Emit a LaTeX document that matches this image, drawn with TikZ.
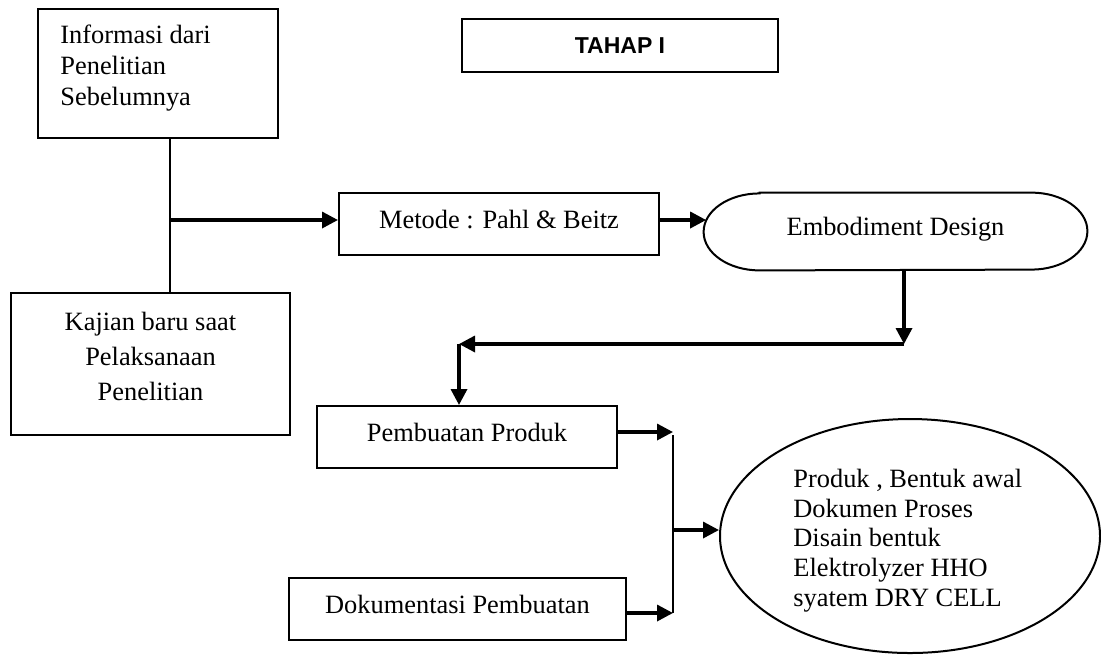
\documentclass[tikz,border=0pt]{standalone}
\usepackage{fontspec}
\setmainfont{Liberation Serif}
\newfontfamily\tahapfont{Liberation Sans}
\usetikzlibrary{arrows.meta,shapes.geometric}
\begin{document}
\begin{tikzpicture}[x=0.5pt,y=-0.5pt,
  box/.style={draw, line width=1pt, rectangle, inner sep=0pt},
  lbl/.style={inner sep=0pt},
  arr/.style={line width=1.7pt, -{Triangle[length=8pt,width=8pt]}},
  link/.style={line width=1pt},
  txt/.style={font=\fontsize{13.2}{15.5}\selectfont, text height=7.5pt, text depth=3.5pt}
]
\useasboundingbox (0,0) rectangle (1101,655);

% title
\node[box, minimum width=158pt, minimum height=26.5pt,
      font=\tahapfont\bfseries\fontsize{11.5}{13}\selectfont] (tahap) at (620,45.5) {TAHAP I};

% left boxes
\node[box, minimum width=120pt, minimum height=64.5pt] (info) at (158,73.5) {};
\node[lbl, anchor=base west, font=\fontsize{13.2}{15.5}\selectfont] (infot) at (60,43)
  {\begin{tabular}[t]{@{}l@{}}Informasi dari\\Penelitian\\Sebelumnya\end{tabular}};

\node[box, minimum width=139.5pt, minimum height=71pt] (kajian) at (150.5,364) {};
\node[lbl, anchor=base, font=\fontsize{13.2}{17.5}\selectfont] (kajiant) at (150.5,330)
  {\begin{tabular}[t]{@{}c@{}}Kajian baru saat\\Pelaksanaan\\Penelitian\end{tabular}};

% process boxes
\node[box, txt, minimum width=160pt, minimum height=31pt] (metode) at (499,224) {Metode : Pahl \& Beitz};
\node[txt, inner sep=0pt, minimum width=191.5pt, minimum height=38.5pt] (embod) at (895.5,231.5) {Embodiment Design};
\draw[line width=1pt]
  ([xshift=28pt]embod.north west) -- ([xshift=-28pt]embod.north east)
  arc[start angle=90, end angle=-90, x radius=28pt, y radius=19.25pt]
  -- ([xshift=28pt]embod.south west)
  arc[start angle=270, end angle=90, x radius=28pt, y radius=19.25pt] -- cycle;

\node[box, txt, minimum width=150pt, minimum height=31pt] (produk) at (467,437) {Pembuatan Produk};
\node[box, txt, minimum width=168.5pt, minimum height=31pt] (dok) at (457.5,609) {Dokumentasi Pembuatan};

\node[draw, ellipse, line width=1pt, inner sep=0pt, minimum width=190pt, minimum height=117pt] (out) at (910,536) {};
\node[lbl, anchor=base west, font=\fontsize{13.2}{14.9}\selectfont] (outt) at (793,487.3)
  {\begin{tabular}[t]{@{}l@{}}Produk , Bentuk awal\\Dokumen Proses\\Disain bentuk\\Elektrolyzer HHO\\syatem DRY CELL\end{tabular}};

% connectors
\coordinate (j) at (170,220);
\draw[link] (j |- info.south) -- (j |- kajian.north);
\draw[arr] (j) -- (j -| metode.west);
\draw[arr] ([yshift=2pt]metode.east) -- ([yshift=2pt,xshift=1.3pt]metode.east -| embod.west);

\coordinate (e1) at (904,344);
\coordinate (e2) at (459,344);
\draw[arr] (e1 |- embod.south) -- (e1);
\draw[arr] (e1) -- (e2);
\draw[arr] (e2) -- (e2 |- produk.north);

\coordinate (m) at (673,530);
\coordinate (v1) at (673,435);
\coordinate (v2) at (673,613);
\draw[arr] ([yshift=2.5pt]produk.east) -- ([yshift=2.5pt]produk.east -| m);
\draw[arr] ([yshift=-2pt]dok.east) -- ([yshift=-2pt]dok.east -| m);
\draw[link] (v1) -- (v2);
\draw[arr] (m) -- (m -| out.west);
\end{tikzpicture}
\end{document}
